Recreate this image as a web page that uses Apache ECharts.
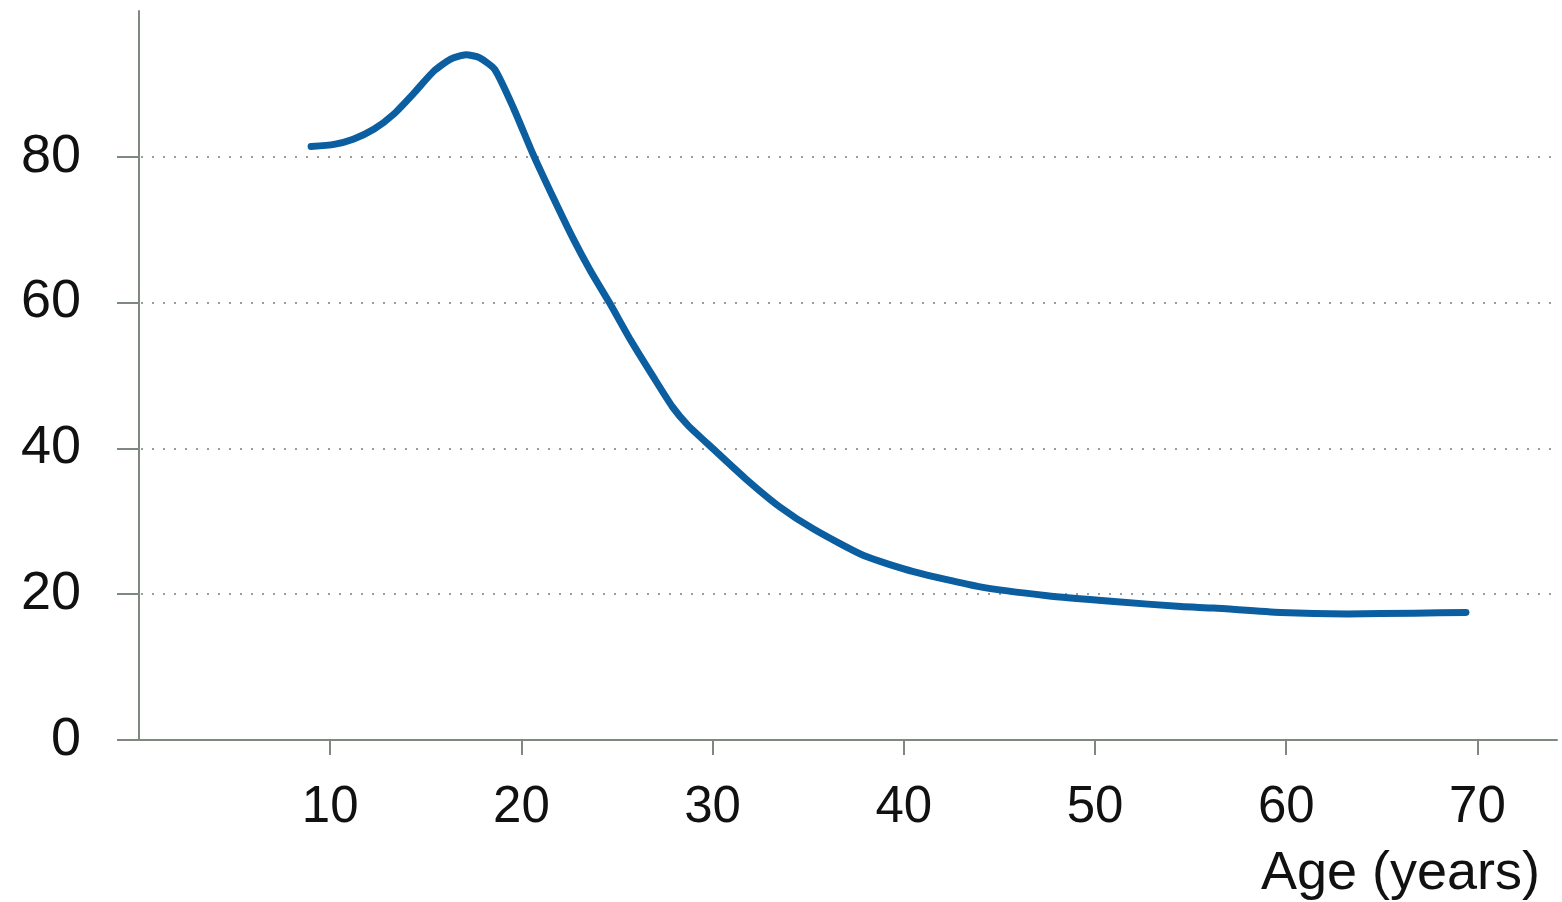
<!DOCTYPE html>
<html>
<head>
<meta charset="utf-8">
<script src="https://cdn.jsdelivr.net/npm/echarts@6/dist/echarts.min.js"></script>
<style>
  html, body { margin: 0; padding: 0; background: #ffffff; }
  #chart { width: 1562px; height: 902px; }
</style>
</head>
<body>
<div id="chart"></div>
<script>
// Ages (years) along the curve
const ages = [9.0, 10.2, 11.2, 12.3, 13.3, 14.4, 15.4, 16.3, 17.1, 17.8, 18.6, 19.6, 20.6, 21.7, 22.7, 23.6, 24.6, 25.7, 26.9, 27.9, 28.7, 30.0, 31.7, 33.5, 35.3, 37.9, 40.5, 44.0, 47.5, 51.0, 54.5, 56.2, 59.7, 63.2, 66.7, 69.4];
// Curve values at those ages
const values = [81.4, 81.7, 82.4, 83.8, 85.8, 88.8, 91.7, 93.4, 94.0, 93.6, 92.0, 86.6, 80.4, 74.2, 68.8, 64.4, 60.0, 54.9, 49.8, 45.7, 43.2, 40.0, 35.9, 32.0, 28.9, 25.3, 23.1, 21.0, 19.8, 19.0, 18.3, 18.1, 17.5, 17.3, 17.4, 17.5];
// Tick labels
const xTicks = [10, 20, 30, 40, 50, 60, 70];
const yTicks = [0, 20, 40, 60, 80];
const xAxisName = 'Age (years)';

const axisColor = '#7f887f';
const font = 'Liberation Sans, Arial, Helvetica, sans-serif';

const chart = echarts.init(document.getElementById('chart'), null, { renderer: 'canvas' });
chart.setOption({
  animation: false,
  backgroundColor: '#ffffff',
  grid: {
    left: 119, right: 5, top: 11, bottom: 162,
    containLabel: false,
    outerBoundsMode: 'none'
  },
  xAxis: {
    type: 'value',
    min: -1.046,
    max: 74.16,
    name: xAxisName,
    nameLocation: 'end',
    nameGap: -17,
    nameMoveOverlap: false,
    nameTextStyle: {
      fontFamily: font, fontSize: 54, color: '#111',
      align: 'right', verticalAlign: 'top',
      padding: [107, 0, 0, 0]
    },
    axisLine: { show: true, onZero: false, lineStyle: { color: axisColor, width: 2 } },
    axisTick: { show: true, length: 15, customValues: xTicks, lineStyle: { color: axisColor, width: 2 } },
    axisLabel: { customValues: xTicks, margin: 42, fontFamily: font, fontSize: 51, color: '#111' },
    splitLine: { show: false }
  },
  yAxis: {
    type: 'value',
    min: 0,
    max: 100,
    interval: 20,
    axisLine: { show: true, onZero: true, lineStyle: { color: axisColor, width: 2 } },
    axisTick: { show: true, length: 22, customValues: yTicks, lineStyle: { color: axisColor, width: 2 } },
    axisLabel: { customValues: yTicks, margin: 38, fontFamily: font, fontSize: 54, color: '#111' },
    splitLine: {
      show: true,
      showMinLine: false,
      lineStyle: { color: '#9c9c9c', width: 2, type: [2, 9] }
    }
  },
  series: [{
    type: 'line',
    data: ages.map((a, i) => [a, values[i]]),
    showSymbol: false,
    smooth: 0.2,
    lineStyle: { color: '#0b5fa0', width: 7, cap: 'round', join: 'round' },
    itemStyle: { color: '#0b5fa0' }
  }]
});
</script>
</body>
</html>
